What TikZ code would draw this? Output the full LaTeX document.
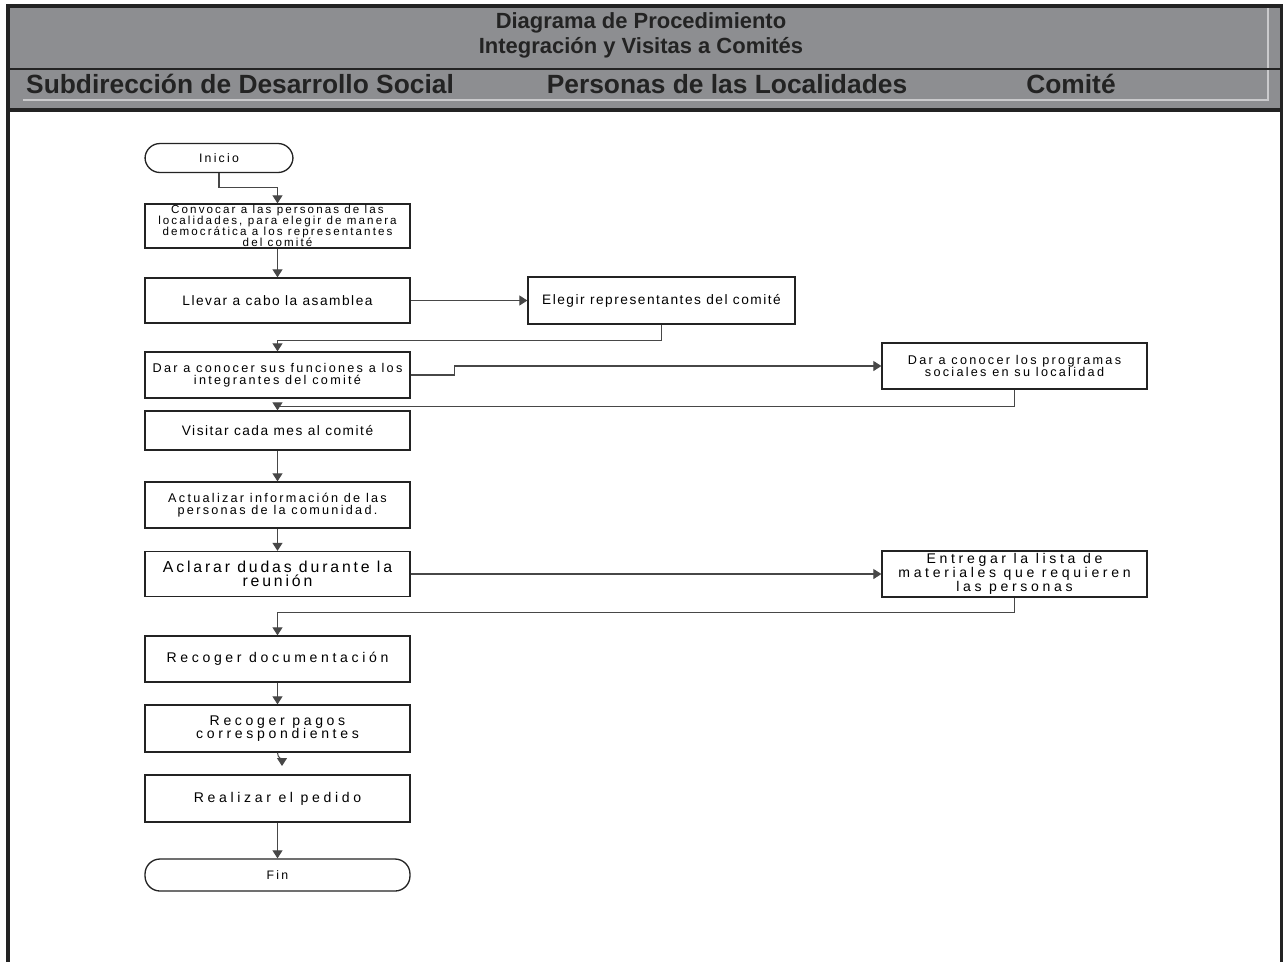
\documentclass[tikz,border=0pt]{standalone}
\usepackage{fontspec}
\setmainfont{Liberation Sans}
\newfontfamily\pasofont[LetterSpace=18]{Liberation Sans}
\newfontfamily\unafont[LetterSpace=11]{Liberation Sans}
\newfontfamily\anchofont[LetterSpace=26]{Liberation Sans}
\newfontfamily\finfont[LetterSpace=18]{Liberation Sans}
\usetikzlibrary{arrows.meta}
\definecolor{banda}{HTML}{8D8E91}
\definecolor{brillo}{HTML}{CACACC}
\definecolor{tinta}{HTML}{232323}
\definecolor{conector}{HTML}{474747}
% renglones apretados, sin \lineskip
\newcommand\apretado[3]{#1\fontsize{#2}{#3}\selectfont\lineskiplimit=-10pt}
\tikzset{
  paso/.style={draw=tinta, line width=0.75pt, rectangle, inner sep=0pt,
    minimum width=5.3cm, minimum height=0.9cm, align=center,
    font=\apretado\pasofont{7.2}{6.9}},
  pasouno/.style={paso, font=\apretado\unafont{7.8}{9}},
  pasoancho/.style={paso, font=\apretado\anchofont{8}{7.8}},
  terminal/.style={paso, rounded corners=0.3cm, minimum height=0.62cm,
    font=\apretado\finfont{7}{8}},
  flujo/.style={draw=conector, line width=0.6pt,
    -{Triangle[length=1.6mm,width=2mm]}},
  carril/.style={font=\bfseries\fontsize{15}{18}\selectfont, text=tinta},
  titulo/.style={font=\bfseries\fontsize{12.5}{14}\selectfont, text=tinta},
}

\begin{document}
\begin{tikzpicture}[x=0.02cm, y=-0.02cm]
			\useasboundingbox (0,0) rectangle (1283,961);
			%%%%% START %%%%%
			% encabezado
			\fill[banda] (8,6) rectangle (1282,110);
			\draw[brillo, line width=0.6pt] (23,100) -- (1268,100) -- (1268,6);
			\draw[tinta, line width=1.2pt] (8,69) -- (1282,69);
			\draw[tinta, line width=1.8pt] (8,110) -- (1282,110);
			\draw[tinta, line width=1.8pt] (8,975) -- (8,6) -- (1282,6) -- (1282,975);
			
			\node[titulo] (tit1) at (641,23) {Diagrama de Procedimiento};
			\node[titulo] (tit2) at (641,48) {Integración y Visitas a Comités};
			\node[carril] (sub) at (240,84) {Subdirección de Desarrollo Social};
			\node[carril] (per) at (727,84) {Personas de las Localidades};
			\node[carril] (com) at (1071,84) {Comité};
			
			% pasos
			\node[terminal, minimum width=2.96cm, minimum height=0.58cm] (inicio) at (219,158) {Inicio};
			\node[paso, minimum height=0.88cm, font=\apretado\pasofont{6.6}{6.3}] (convocar) at (277.5,226) {Convocar a las personas de las\\localidades, para elegir de manera\\democrática a los representantes\\del comité};
			\node[pasouno] (llevar) at (277.5,300.5) {Llevar a cabo la asamblea};
			\node[pasouno, minimum width=5.34cm, minimum height=0.94cm] (elegir) at (661.5,300.5) {Elegir representantes del comité};
			\node[paso, minimum height=0.92cm] (dar) at (277.5,375) {Dar a conocer sus funciones a los\\integrantes del comité};
			\node[paso, minimum height=0.92cm] (sociales) at (1014.5,366) {Dar a conocer los programas\\sociales en su localidad};
			\node[pasouno, minimum height=0.78cm] (visitar) at (277.5,430.5) {Visitar cada mes al comité};
			\node[paso, minimum height=0.92cm] (actualizar) at (277.5,505) {Actualizar información de las\\personas de la comunidad.};
			\node[paso, font=\apretado\pasofont{9}{8.3}] (aclarar) at (277.5,574) {Aclarar dudas durante la\\reunión};
			\node[pasoancho, minimum height=0.92cm] (entregar) at (1014.5,574) {Entregar la lista de\\materiales que requieren\\las personas};
			\node[pasoancho, minimum height=0.92cm] (recoger) at (277.5,659) {Recoger documentación};
			\node[pasoancho, minimum height=0.94cm] (pagos) at (277.5,728.5) {Recoger pagos\\correspondientes};
			\node[pasoancho, minimum height=0.94cm] (realizar) at (277.5,798.5) {Realizar el pedido};
			\node[terminal, minimum height=0.64cm] (fin) at (277.5,875) {Fin};
			\coordinate (llegada) at (282,766);
			
			% conectores
			\draw[flujo] (inicio.south) -- ++(0,14) -| (convocar.north);
			\draw[flujo] (convocar) -- (llevar);
			\draw[flujo] (llevar) -- (elegir);
			\draw[flujo] (elegir.south) -- ++(0,16) -| (dar.north);
			\draw[flujo] (dar.east) -- ++(44,0) |- (sociales.west);
			\draw[flujo] (sociales.south) -- ++(0,17) -| (visitar.north);
			\draw[flujo] (visitar) -- (actualizar);
			\draw[flujo] (actualizar) -- (aclarar);
			\draw[flujo] (aclarar) -- (entregar);
			\draw[flujo] (entregar.south) -- ++(0,15) -| (recoger.north);
			\draw[flujo] (recoger) -- (pagos);
			\draw[flujo] (pagos.south) .. controls +(0,5) and +(0,-6) .. (llegada);
			\draw[flujo] (realizar) -- (fin);
			%%%%% END %%%%%
\end{tikzpicture}
\end{document}
